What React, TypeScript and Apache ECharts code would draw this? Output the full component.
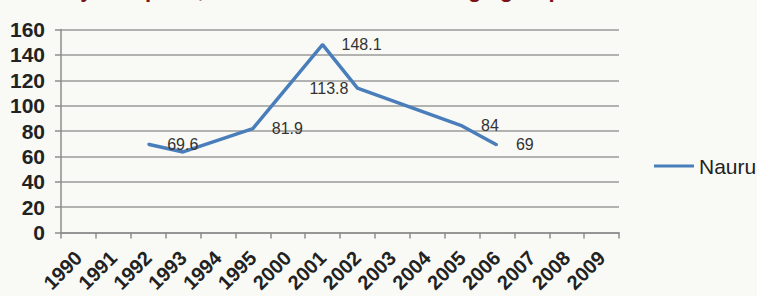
import React, { useEffect, useRef } from "react";
import * as echarts from "echarts";

const categories = ["1990", "1991", "1992", "1993", "1994", "1995", "2000", "2001", "2002", "2003", "2004", "2005", "2006", "2007", "2008", "2009"];
const nauruValues: (number | null)[] = [null, null, 69.6, 63.5, null, 81.9, null, 148.1, 113.8, null, null, 84, 69, null, null, null];
const labelShown = [false, false, true, false, false, true, false, true, true, false, false, true, true, false, false, false];
const labelLeft = [false, false, false, false, false, false, false, false, true, false, false, false, false, false, false, false];
const yTicks = { min: 0, max: 160, interval: 20 };
const seriesName = "Nauru";
const titleText = "Adolescent fertility rate per 1,000 women in the 15-19 age group";

export default function App() {
  const ref = useRef<HTMLDivElement>(null);
  useEffect(() => {
    if (!ref.current) return;
    const chart = echarts.init(ref.current, null, { renderer: "svg" });
    const data = nauruValues.map((v, i) => ({
      value: v,
      label: labelShown[i]
        ? labelLeft[i]
          ? { show: true, position: "left", distance: 8, offset: [0, 5] }
          : { show: true, position: "right", distance: 18, offset: [0, i === 2 ? 7 : 4] }
        : { show: false },
    }));
    chart.setOption({
      animation: false,
      backgroundColor: "#f9faf6",
      textStyle: { fontFamily: "Liberation Sans, Arial, sans-serif" },
      graphic: [
        {
          type: "text",
          x: 562,
          y: 0,
          style: {
            text: titleText,
            font: "bold 22px 'Liberation Sans', Arial, sans-serif",
            fill: "#7a1414",
            textAlign: "right",
            textVerticalAlign: "bottom",
          },
        },
      ],
      legend: {
        data: [seriesName],
        left: 649,
        top: 150,
        icon: "rect",
        itemWidth: 40,
        itemHeight: 3,
        itemStyle: { color: "#4a7ebb", opacity: 1 },
        textStyle: { fontSize: 21, color: "#222", lineHeight: 22, fontFamily: "Liberation Sans, Arial, sans-serif" },
      },
      grid: { left: 61, right: 138, top: 29.5, bottom: 63.5, containLabel: false },
      xAxis: {
        type: "category",
        data: categories,
        boundaryGap: true,
        axisLine: { lineStyle: { color: "#8c8c8c", width: 1.5 } },
        axisTick: { show: true, length: 6, interval: 0, lineStyle: { color: "#8c8c8c", width: 1.5 } },
        axisLabel: {
          interval: 0,
          rotate: 45,
          margin: 22,
          fontSize: 20,
          fontWeight: "bold",
          color: "#222",
          fontFamily: "Liberation Sans, Arial, sans-serif",
        },
      },
      yAxis: {
        type: "value",
        min: yTicks.min,
        max: yTicks.max,
        interval: yTicks.interval,
        axisLine: { show: true, lineStyle: { color: "#8c8c8c", width: 1.5 } },
        axisTick: { show: true, length: 6, lineStyle: { color: "#8c8c8c", width: 1.5 } },
        splitLine: { show: true, lineStyle: { color: "#9a9a9a", width: 1.5 } },
        axisLabel: {
          margin: 16,
          fontSize: 21,
          fontWeight: "bold",
          color: "#222",
          fontFamily: "Liberation Sans, Arial, sans-serif",
        },
      },
      series: [
        {
          name: seriesName,
          type: "line",
          data,
          connectNulls: true,
          showSymbol: true,
          symbol: "circle",
          symbolSize: 2,
          itemStyle: { color: "#4a7ebb" },
          color: "#4a7ebb",
          lineStyle: { color: "#4a7ebb", width: 3.5 },
          label: { fontSize: 16, color: "#333", fontFamily: "Liberation Sans, Arial, sans-serif" },
          labelLayout: { hideOverlap: false },
        },
      ],
    });
    return () => chart.dispose();
  }, []);
  return <div ref={ref} style={{ position: "absolute", left: 0, top: 0, width: 757, height: 296 }} />;
}
